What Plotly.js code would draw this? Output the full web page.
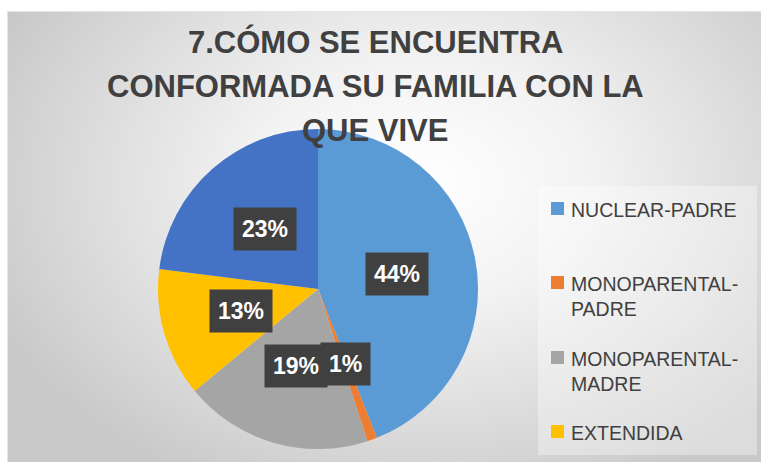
<!DOCTYPE html>
<html>
<head>
<meta charset="utf-8">
<script src="https://cdn.plot.ly/plotly-3.0.1.min.js"></script>
<style>
  html, body { margin: 0; padding: 0; background: #ffffff; }
  #wrap { position: relative; width: 761px; height: 462px; overflow: hidden; background: #ffffff; }
  #bg { position: absolute; left: 7px; top: 11px; right: 0; bottom: 0;
        border-top: 1px solid #e4e4e4; border-left: 1px solid #e4e4e4;
        background: radial-gradient(ellipse 62% 75% at 55% 38%, #ffffff 0%, #f3f3f3 35%, #dddddd 70%, #c9c9c9 100%); }
  #chart { position: absolute; left: 0; top: 0; width: 761px; height: 462px; }
</style>
</head>
<body>
<div id="wrap">
  <div id="bg"></div>
  <div id="chart"></div>
</div>
<script>
// ---- data ----
const labels = ["NUCLEAR-PADRE", "MONOPARENTAL-PADRE", "MONOPARENTAL-MADRE", "EXTENDIDA", "OTRA"];
const values = [44, 1, 19, 13, 23];
const colors = ["#5B9BD5", "#ED7D31", "#A5A5A5", "#FFC000", "#4472C4"];
const legendShown = [true, true, true, true, false];
const titleLines = ["7.CÓMO SE ENCUENTRA", "CONFORMADA SU FAMILIA CON LA", "QUE VIVE"];

// ---- layout constants ----
const W = 761, H = 462;
const pieBox = { x0: 158, x1: 478, y0: 129, y1: 449 }; // px
const cx = (pieBox.x0 + pieBox.x1) / 2, cy = (pieBox.y0 + pieBox.y1) / 2;
const R = (pieBox.x1 - pieBox.x0) / 2;
const labelRadius = 0.5;
const FONT = "Liberation Sans, Arial, sans-serif";

const total = values.reduce((a, b) => a + b, 0);
const annotations = [];

// title lines
titleLines.forEach((line, i) => {
  annotations.push({
    xref: "paper", yref: "paper", x: 375 / W, y: 1 - (42 + 44 * i) / H,
    xanchor: "center", yanchor: "middle",
    text: "<b>" + line + "</b>", showarrow: false,
    font: { family: FONT, size: 31, color: "#404040" }
  });
});

// data labels
let cum = 0;
values.forEach((v, i) => {
  const mid = (cum + v / 2) / total * 2 * Math.PI;
  cum += v;
  const px = cx + labelRadius * R * Math.sin(mid);
  const py = cy - labelRadius * R * Math.cos(mid);
  const txt = Math.round(v / total * 100) + "%";
  annotations.push({
    xref: "paper", yref: "paper", x: px / W, y: 1 - py / H,
    xanchor: "center", yanchor: "middle",
    text: "<b>" + txt + "</b>", showarrow: false, bgcolor: "#404040", borderpad: 8,
    font: { family: FONT, size: 23, color: "#ffffff" }
  });
});

// ---- manual legend ----
const legendTop = [202, 276, 351, 425]; // px, top of each legend square
const shapes = [{
  type: "rect", xref: "paper", yref: "paper",
  x0: 538 / W, x1: 757 / W, y0: 1 - 455 / H, y1: 1 - 186 / H,
  fillcolor: "rgba(255,255,255,0.35)", line: { width: 0 }, layer: "below"
}];
let li = 0;
labels.forEach((lab, i) => {
  if (!legendShown[i]) return;
  const t = legendTop[li++];
  shapes.push({
    type: "rect", xref: "paper", yref: "paper",
    x0: 551 / W, x1: 564 / W, y0: 1 - (t + 13) / H, y1: 1 - t / H,
    fillcolor: colors[i], line: { width: 0 }
  });
  const txt = lab.length > 14 ? lab.replace("-", "-<br>") : lab;
  annotations.push({
    xref: "paper", yref: "paper", x: 569 / W, y: 1 - (t - 5) / H,
    xanchor: "left", yanchor: "top", align: "left",
    text: txt, showarrow: false,
    font: { family: FONT, size: 19.5, color: "#404040" }
  });
});

const data = [{
  type: "pie",
  labels: labels,
  values: values,
  marker: { colors: colors, line: { width: 0 } },
  sort: false,
  direction: "clockwise",
  rotation: 0,
  textinfo: "none",
  hoverinfo: "label+percent",
  showlegend: false,
  domain: { x: [pieBox.x0 / W, pieBox.x1 / W], y: [1 - pieBox.y1 / H, 1 - pieBox.y0 / H] }
}];

const layout = {
  width: W, height: H,
  margin: { l: 0, r: 0, t: 0, b: 0 },
  paper_bgcolor: "rgba(0,0,0,0)",
  plot_bgcolor: "rgba(0,0,0,0)",
  showlegend: false,
  annotations: annotations,
  shapes: shapes
};

Plotly.newPlot("chart", data, layout, { displayModeBar: false, staticPlot: true });
</script>
</body>
</html>
